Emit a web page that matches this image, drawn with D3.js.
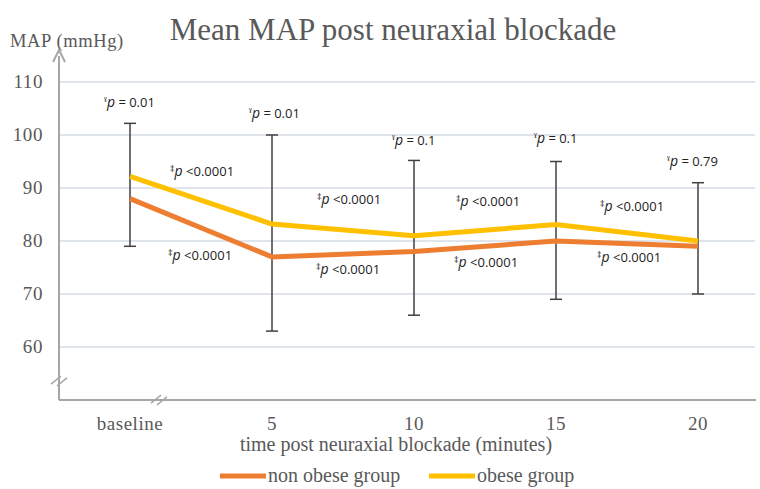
<!DOCTYPE html>
<html>
<head>
<meta charset="utf-8">
<script src="https://cdn.jsdelivr.net/npm/d3@7"></script>
<style>
  body { margin: 0; background: #fff; }
  svg { display: block; }
</style>
</head>
<body>
<div id="chart"></div>
<script>
const categories = ['baseline', '5', '10', '15', '20'];
const nonObese = [88, 77, 78, 80, 79];
const obese = [92.2, 83.2, 81, 83.1, 80];
const errLow = [79, 63, 66, 69, 70];
const errHigh = [102.2, 100, 95.2, 95, 91];
const yTicks = [60, 70, 80, 90, 100, 110];
const gammaLabels = ['0.01', '0.01', '0.1', '0.1', '0.79'];
const upperLabels = ['<0.0001', '<0.0001', '<0.0001', '<0.0001'];
const lowerLabels = ['<0.0001', '<0.0001', '<0.0001', ' <0.0001'];

const W = 760, H = 489;
const serif = "'Liberation Serif', 'DejaVu Serif', serif";
const sans = "'Open Sans', 'Liberation Sans', sans-serif";

const svg = d3.select('#chart').append('svg')
    .attr('width', W).attr('height', H);

const x = d3.scalePoint().domain(categories).range([130, 698]);
const y = d3.scaleLinear().domain([50, 110]).range([400, 82]);

// gridlines
svg.append('g').selectAll('line')
    .data(yTicks)
    .join('line')
    .attr('x1', 60).attr('x2', 755)
    .attr('y1', d => y(d)).attr('y2', d => y(d))
    .attr('stroke', '#d6dde6').attr('stroke-width', 1.5);

// y tick labels
svg.append('g').selectAll('text')
    .data(yTicks)
    .join('text')
    .attr('x', 43).attr('y', d => y(d) + 6)
    .attr('text-anchor', 'end')
    .attr('font-family', serif).attr('font-size', 19)
    .attr('letter-spacing', 0.6)
    .attr('fill', '#595959')
    .text(d => d);

// axes
const axisColor = '#a6a6a6';
svg.append('line').attr('x1', 59).attr('x2', 59).attr('y1', 56).attr('y2', y(50))
    .attr('stroke', axisColor).attr('stroke-width', 2);
svg.append('path').attr('d', 'M53,62 L59,50 L65,62')
    .attr('fill', 'none').attr('stroke', axisColor).attr('stroke-width', 2);
svg.append('line').attr('x1', 59).attr('x2', 756).attr('y1', y(50)).attr('y2', y(50))
    .attr('stroke', axisColor).attr('stroke-width', 2);

// axis breaks
const brk = svg.append('g').attr('stroke', axisColor).attr('stroke-width', 1.5);
[[59, 381], [159, 400]].forEach(([cx, cy]) => {
  [-3, 3].forEach(o => {
    brk.append('line')
      .attr('x1', cx - 5 + o).attr('y1', cy + 4 + o * 0.3)
      .attr('x2', cx + 5 + o).attr('y2', cy - 4 + o * 0.3);
  });
});

// x tick labels
svg.append('g').selectAll('text')
    .data(categories)
    .join('text')
    .attr('x', d => x(d)).attr('y', 430)
    .attr('text-anchor', 'middle')
    .attr('font-family', serif).attr('font-size', 19)
    .attr('letter-spacing', 0.5)
    .attr('fill', '#595959')
    .text(d => d);

// error bars
const eb = svg.append('g').attr('stroke', '#404040').attr('stroke-width', 1.5);
categories.forEach((c, i) => {
  eb.append('line').attr('x1', x(c)).attr('x2', x(c))
    .attr('y1', y(errLow[i])).attr('y2', y(errHigh[i]));
  [errLow[i], errHigh[i]].forEach(v => {
    eb.append('line').attr('x1', x(c) - 6).attr('x2', x(c) + 6)
      .attr('y1', y(v)).attr('y2', y(v));
  });
});

// lines
const line = d3.line().x((d, i) => x(categories[i])).y(d => y(d));
svg.append('path').datum(nonObese).attr('d', line)
    .attr('fill', 'none').attr('stroke', '#ED7D31').attr('stroke-width', 5)
    .attr('stroke-linejoin', 'round');
svg.append('path').datum(obese).attr('d', line)
    .attr('fill', 'none').attr('stroke', '#FFC000').attr('stroke-width', 5)
    .attr('stroke-linejoin', 'round');

// annotations
function annot(px, py, sym, val) {
  const t = svg.append('text').attr('x', px).attr('y', py)
    .attr('font-family', sans).attr('font-size', 13).attr('fill', '#222');
  t.append('tspan').attr('font-size', 9).attr('dy', -4).text(sym);
  t.append('tspan').attr('font-style', 'italic').attr('font-size', 14).attr('dy', 4).text('p');
  t.append('tspan').text(' ' + val);
}
const gammaPos = [[104, 107], [249, 118], [392, 145], [534, 143], [667, 166]];
gammaLabels.forEach((v, i) => annot(gammaPos[i][0], gammaPos[i][1], 'ˠ', '= ' + v));
const upperPos = [[170, 176], [317, 204], [456, 206], [600, 211]];
upperLabels.forEach((v, i) => annot(upperPos[i][0], upperPos[i][1], '‡', v));
const lowerPos = [[168, 260], [316, 274], [454, 267], [597, 262]];
lowerLabels.forEach((v, i) => annot(lowerPos[i][0], lowerPos[i][1], '‡', v));

// titles
svg.append('text').attr('x', 393).attr('y', 40)
    .attr('text-anchor', 'middle')
    .attr('font-family', serif).attr('font-size', 31).attr('fill', '#595959')
    .text('Mean MAP post neuraxial blockade');
svg.append('text').attr('x', 10).attr('y', 47)
    .attr('font-family', serif).attr('font-size', 18.5).attr('letter-spacing', 0.6)
    .attr('fill', '#595959')
    .text('MAP (mmHg)');
svg.append('text').attr('x', 396).attr('y', 451)
    .attr('text-anchor', 'middle')
    .attr('font-family', serif).attr('font-size', 20).attr('fill', '#595959')
    .text('time post neuraxial blockade (minutes)');

// legend
const legend = [['non obese group', '#ED7D31', 220], ['obese group', '#FFC000', 429]];
legend.forEach(([name, col, lx]) => {
  svg.append('line').attr('x1', lx).attr('x2', lx + 46).attr('y1', 476).attr('y2', 476)
    .attr('stroke', col).attr('stroke-width', 5);
  svg.append('text').attr('x', lx + 48).attr('y', 482)
    .attr('font-family', serif).attr('font-size', 20).attr('fill', '#595959')
    .text(name);
});
</script>
</body>
</html>
